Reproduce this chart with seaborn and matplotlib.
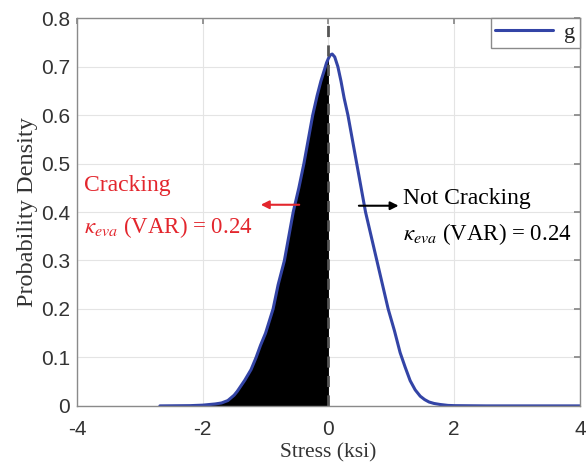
import matplotlib
matplotlib.use("Agg")
import matplotlib.pyplot as plt
import pandas as pd
import seaborn as sns

# stress (ksi) vs probability density
stress = [-2.68, -2.2, -2.0, -1.8, -1.7, -1.6, -1.5, -1.45, -1.33, -1.23,
          -1.15, -1.08, -1.0, -0.88, -0.8, -0.70, -0.63, -0.56, -0.47, -0.39,
          -0.32, -0.25, -0.18, -0.12, -0.06, -0.03, 0.0, 0.03, 0.06, 0.1,
          0.15, 0.2, 0.25, 0.31, 0.38, 0.45, 0.52, 0.59, 0.68, 0.77,
          0.86, 0.95, 1.05, 1.14, 1.22, 1.3, 1.38, 1.46, 1.53, 1.6,
          1.68, 1.77, 1.9, 2.0, 2.5, 3.0, 4.0]
density = [0.0, 0.0005, 0.0015, 0.004, 0.006, 0.011, 0.022, 0.03, 0.053, 0.075,
           0.10, 0.125, 0.15, 0.20, 0.25, 0.30, 0.35, 0.40, 0.45, 0.50,
           0.55, 0.60, 0.64, 0.67, 0.695, 0.708, 0.717, 0.724, 0.726, 0.72,
           0.70, 0.67, 0.635, 0.60, 0.55, 0.50, 0.45, 0.40, 0.35, 0.30,
           0.25, 0.20, 0.155, 0.11, 0.08, 0.052, 0.033, 0.02, 0.013, 0.008,
           0.005, 0.003, 0.001, 0.0005, 0.0, 0.0, 0.0]

xticks = [-4, -2, 0, 2, 4]
yticks = [0, 0.1, 0.2, 0.3, 0.4, 0.5, 0.6, 0.7, 0.8]
ytick_labels = ["0", "0.1", "0.2", "0.3", "0.4", "0.5", "0.6", "0.7", "0.8"]
kappa = 0.24

BLUE = "#3344a6"
RED = "#e3262d"

sns.set_theme(style="whitegrid")
plt.rcParams["font.family"] = ["Liberation Sans", "DejaVu Sans"]
plt.rcParams["mathtext.fontset"] = "stix"
plt.rcParams["axes.unicode_minus"] = False

df = pd.DataFrame({"Stress": stress, "Density": density})
left = df[df["Stress"] <= 0]

fig = plt.figure(figsize=(5.87, 4.66), dpi=100)
ax = fig.add_axes([0.131, 0.129, 0.857, 0.832])

ax.fill_between(left["Stress"], left["Density"], color="black", lw=0)
sns.lineplot(data=df, x="Stress", y="Density", ax=ax, color=BLUE, lw=2.2,
             label="g")
ax.axvline(0, color="#555555", ls=(0, (4, 3)), lw=2.0)

ax.set_xlim(-4, 4)
ax.set_ylim(0, 0.8)
ax.set_xticks(xticks)
ax.set_yticks(yticks)
ax.set_yticklabels(ytick_labels)
ax.tick_params(labelsize=15, direction="in", length=4, color="#888888",
               labelcolor="#333333", top=True, right=True)
ax.tick_params(axis="x", pad=10)
ax.tick_params(axis="y", pad=5)
ax.grid(color="#e4e4e4", lw=0.8)
for s in ax.spines.values():
    s.set_color("#8a8a8a")
    s.set_linewidth(1.0)

serif = "Liberation Serif"
ax.set_xlabel("Stress (ksi)", family=serif, fontsize=15.5,
              color="#333333", labelpad=3)
ax.set_ylabel("Probability Density", family=serif, fontsize=17.5,
              color="#333333", labelpad=2)

ax.text(-3.88, 0.455, "Cracking", color=RED, fontsize=17, family=serif,
        va="center")
ax.text(-3.88, 0.37, r"$\kappa_{eva}$ (VAR) = %.2f" % kappa, color=RED,
        fontsize=16.5, family=serif, va="center")
ax.annotate("", xy=(-1.12, 0.415), xytext=(-0.42, 0.415),
            arrowprops=dict(arrowstyle="-|>", color=RED, lw=1.5,
                            mutation_scale=12))

ax.text(1.19, 0.428, "Not Cracking", color="black", fontsize=17, family=serif,
        va="center")
ax.text(1.19, 0.355, r"$\kappa_{eva}$ (VAR) = %.2f" % kappa, color="black",
        fontsize=16.5, family=serif, va="center")
ax.annotate("", xy=(1.16, 0.413), xytext=(0.44, 0.413),
            arrowprops=dict(arrowstyle="-|>", color="black", lw=1.5,
                            mutation_scale=12))

leg = ax.legend(loc="upper right", borderaxespad=0, fancybox=False,
                framealpha=1, edgecolor="#8a8a8a", handlelength=2.6,
                prop={"family": serif, "size": 16}, borderpad=0.2,
                handletextpad=0.5)
leg.get_frame().set_linewidth(1.0)

fig.savefig("out.png", dpi=100)
